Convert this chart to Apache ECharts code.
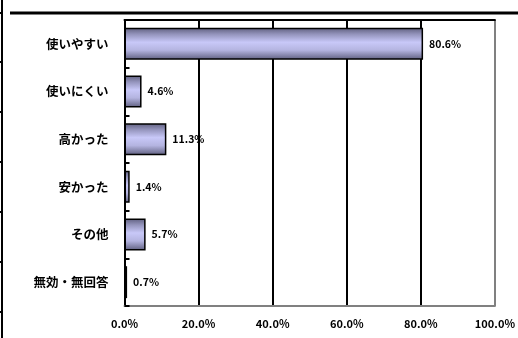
<!DOCTYPE html>
<html>
<head>
<meta charset="utf-8">
<script src="https://cdn.jsdelivr.net/npm/echarts@6/dist/echarts.min.js"></script>
<style>
  html, body { margin: 0; padding: 0; background: #fff; }
  #chart { width: 518px; height: 338px; }
</style>
</head>
<body>
<div id="chart"></div>
<script>
// Survey answers and their shares (%)
const categories = ['使いやすい', '使いにくい', '高かった', '安かった', 'その他', '無効・無回答'];
const shares = [80.6, 4.6, 11.3, 1.4, 5.7, 0.7];
const tickValues = [0, 20, 40, 60, 80, 100];

const chart = echarts.init(document.getElementById('chart'));
const fontFamily = '"Noto Sans CJK JP", "Noto Sans", sans-serif';

const barFill = new echarts.graphic.LinearGradient(0, 0, 0, 1, [
  { offset: 0, color: '#5e5e7e' },
  { offset: 0.2, color: '#9494bc' },
  { offset: 0.45, color: '#c8c8f8' },
  { offset: 0.7, color: '#b4b4e0' },
  { offset: 1, color: '#5e5e7e' }
]);

// frame lines around the chart block, with small marks on the left edge
const frame = [
  { type: 'line', shape: { x1: 10, y1: 13, x2: 518, y2: 13 }, style: { stroke: '#000', lineWidth: 3 } },
  { type: 'line', shape: { x1: 2, y1: 0, x2: 2, y2: 338 }, style: { stroke: '#000', lineWidth: 2 } }
];
[13, 62, 112, 162, 212, 262, 312].forEach(y => {
  frame.push({ type: 'line', shape: { x1: 0, y1: y, x2: 3, y2: y }, style: { stroke: '#000', lineWidth: 2 } });
});

chart.setOption({
  animation: false,
  grid: { left: 124.5, right: 21, top: 20, bottom: 32, containLabel: false },
  graphic: frame,
  xAxis: [
    {
      type: 'value', min: 0, max: 100, interval: 20,
      axisLine: { show: true, lineStyle: { color: '#808080', width: 2 } },
      axisTick: { show: false },
      axisLabel: {
        margin: 12, color: '#000', fontFamily, fontSize: 11, fontWeight: 'bold',
        formatter: v => v.toFixed(1) + '%'
      },
      splitLine: {
        show: true,
        lineStyle: { color: ['#000', '#000', '#000', '#000', '#000', '#808080'], width: 2 }
      }
    },
    {
      type: 'value', min: 0, max: 100, position: 'top',
      axisLine: { show: true, lineStyle: { color: '#000', width: 2 } },
      axisTick: { show: false }, axisLabel: { show: false }, splitLine: { show: false }
    }
  ],
  yAxis: {
    type: 'category', data: categories, inverse: true,
    axisLine: { show: true, lineStyle: { color: '#000', width: 2 } },
    axisTick: { show: true, inside: true, length: 5, lineStyle: { color: '#000', width: 2 } },
    axisLabel: { margin: 16, color: '#000', fontFamily, fontSize: 12.5, fontWeight: 'bold' }
  },
  series: [{
    type: 'bar', data: shares, barWidth: '67%',
    itemStyle: { color: barFill, borderColor: '#000', borderWidth: 1.5 },
    label: {
      show: true, position: 'right', distance: 6, color: '#000',
      fontFamily, fontSize: 10.5, fontWeight: 'bold',
      formatter: p => p.value.toFixed(1) + '%'
    }
  }]
});
</script>
</body>
</html>
